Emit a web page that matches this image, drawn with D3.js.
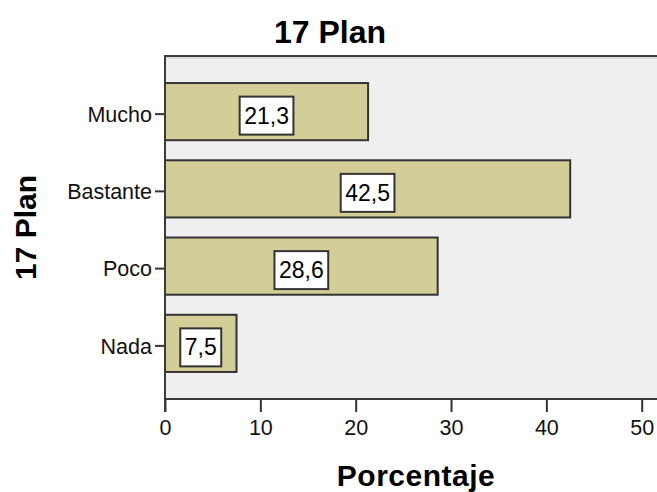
<!DOCTYPE html>
<html>
<head>
<meta charset="utf-8">
<script src="https://cdn.jsdelivr.net/npm/d3@7"></script>
<style>
  html, body { margin: 0; padding: 0; background: #ffffff; }
  svg { display: block; font-family: "Liberation Sans", Arial, sans-serif; }
</style>
</head>
<body>
<svg id="chart" width="657" height="492"></svg>
<script>
// Response categories, top to bottom
const categories = ["Mucho", "Bastante", "Poco", "Nada"];
// Percentage per category
const percentages = [21.3, 42.5, 28.6, 7.5];
// Value axis ticks
const xTicks = [0, 10, 20, 30, 40, 50];

const chartTitle = "17 Plan";
const yTitle = "17 Plan";
const xTitle = "Porcentaje";

const svg = d3.select("#chart");

const plot = { left: 165, top: 56, right: 667, bottom: 399 };

const x = d3.scaleLinear().domain([0, 50]).range([plot.left, 641.7]);
const y = d3.scaleBand()
  .domain(categories)
  .range([plot.top, plot.bottom])
  .paddingInner(0.26)
  .paddingOuter(0.35);

const fmt = v => d3.format(".1f")(v).replace(".", ",");

// Plot background
svg.append("rect")
  .attr("x", plot.left).attr("y", plot.top)
  .attr("width", plot.right - plot.left)
  .attr("height", plot.bottom - plot.top)
  .attr("fill", "#efefef");

// Soft inner shade along the top frame edge
svg.append("line")
  .attr("x1", plot.left).attr("x2", plot.right)
  .attr("y1", plot.top + 2).attr("y2", plot.top + 2)
  .attr("stroke", "#c8c8c8").attr("stroke-width", 1);

// Top frame line
svg.append("line")
  .attr("x1", plot.left).attr("x2", plot.right)
  .attr("y1", plot.top).attr("y2", plot.top)
  .attr("stroke", "#3a3a3a").attr("stroke-width", 2);

const rows = categories.map((c, i) => ({ cat: c, val: percentages[i] }));

// Bars
svg.append("g").selectAll("rect")
  .data(rows)
  .join("rect")
  .attr("x", x(0))
  .attr("y", d => y(d.cat))
  .attr("width", d => x(d.val) - x(0))
  .attr("height", y.bandwidth())
  .attr("fill", "#d3ce98")
  .attr("stroke", "#333333")
  .attr("stroke-width", 2);

// Value labels in white boxes at the middle of each bar
const labels = svg.append("g").selectAll("g")
  .data(rows)
  .join("g")
  .attr("transform", d => `translate(${(x(0) + x(d.val)) / 2},${y(d.cat) + y.bandwidth() / 2})`);

labels.append("rect").attr("class", "box");
labels.append("text")
  .attr("text-anchor", "middle")
  .attr("y", 12)
  .attr("font-size", 23)
  .attr("fill", "#000")
  .text(d => fmt(d.val));

labels.each(function() {
  const g = d3.select(this);
  const w = g.select("text").node().getComputedTextLength();
  g.select("rect.box")
    .attr("x", -w / 2 - 4.5)
    .attr("y", -15)
    .attr("width", w + 9)
    .attr("height", 38)
    .attr("fill", "#ffffff")
    .attr("stroke", "#333333")
    .attr("stroke-width", 2);
});

// Bottom axis
const xAxis = d3.axisBottom(x)
  .tickValues(xTicks)
  .tickSize(13)
  .tickPadding(8)
  .tickFormat(d3.format("d"));

const gx = svg.append("g")
  .attr("transform", `translate(0,${plot.bottom})`)
  .call(xAxis);
gx.select(".domain").remove();
gx.append("line")
  .attr("x1", plot.left).attr("x2", plot.right)
  .attr("stroke", "#3a3a3a").attr("stroke-width", 2);
gx.selectAll(".tick line").attr("stroke", "#333").attr("stroke-width", 2);
gx.selectAll(".tick text")
  .attr("font-size", 21.5)
  .attr("fill", "#111")
  .attr("font-family", "'Liberation Sans', Arial, sans-serif");

// Left axis (category ticks sit slightly below the band middle)
const yAxis = d3.axisLeft(y).tickSize(10).tickPadding(3);
const gy = svg.append("g")
  .attr("transform", `translate(${plot.left},2.5)`)
  .call(yAxis);
gy.select(".domain").remove();
gy.append("line")
  .attr("y1", plot.top - 3.5).attr("y2", plot.bottom + 10.5)
  .attr("stroke", "#3a3a3a").attr("stroke-width", 2);
gy.selectAll(".tick line").attr("stroke", "#333").attr("stroke-width", 2);
gy.selectAll(".tick text")
  .attr("font-size", 21.5)
  .attr("fill", "#111")
  .attr("dy", "0.36em")
  .attr("font-family", "'Liberation Sans', Arial, sans-serif");

// Titles
svg.append("text")
  .attr("x", 330).attr("y", 43)
  .attr("text-anchor", "middle")
  .attr("font-size", 32).attr("font-weight", "bold")
  .attr("fill", "#000")
  .text(chartTitle);

svg.append("text")
  .attr("transform", `translate(36,${(plot.top + plot.bottom) / 2}) rotate(-90)`)
  .attr("text-anchor", "middle")
  .attr("font-size", 30).attr("font-weight", "bold")
  .attr("fill", "#000")
  .text(yTitle);

svg.append("text")
  .attr("x", 416).attr("y", 486)
  .attr("text-anchor", "middle")
  .attr("font-size", 30).attr("font-weight", "bold")
  .attr("letter-spacing", 0.5)
  .attr("fill", "#000")
  .text(xTitle);
</script>
</body>
</html>
